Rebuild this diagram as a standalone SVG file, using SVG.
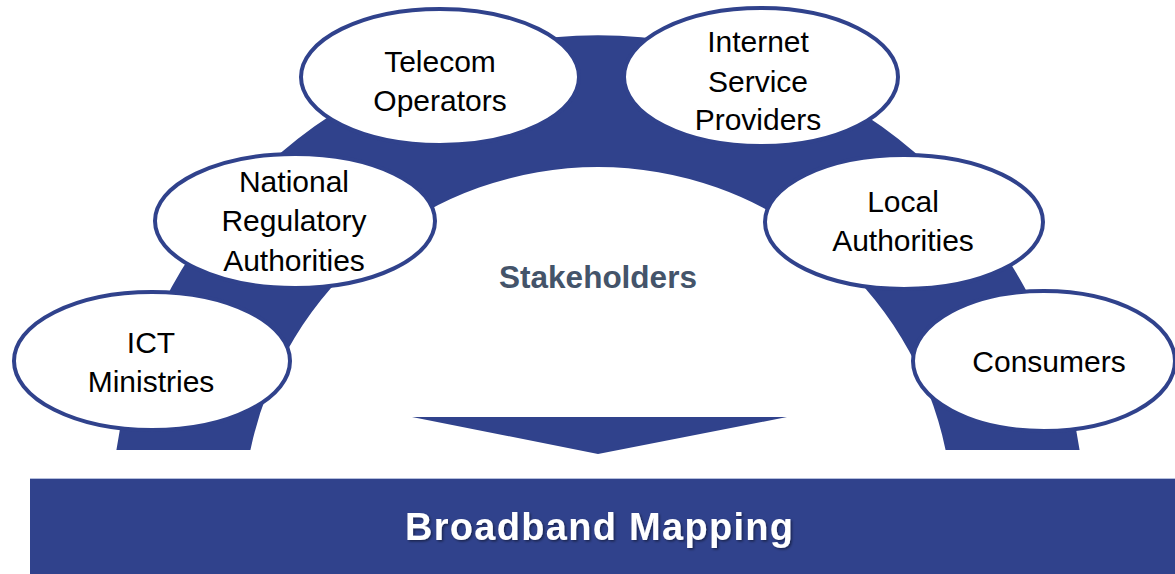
<svg xmlns="http://www.w3.org/2000/svg" width="1175" height="574" viewBox="0 0 1175 574">
<defs>
<filter id="shadow" x="-5%" y="-20%" width="110%" height="150%">
<feDropShadow dx="1.5" dy="1.5" stdDeviation="1" flood-color="#000" flood-opacity="0.45"/>
</filter>
</defs>
<style>
.band{fill:#30428C}
.node ellipse{fill:#fff;stroke:#30428C;stroke-width:4}
.node text{font-family:"Liberation Sans",Arial,sans-serif;font-size:30px;fill:#000;text-anchor:middle}
.title{font-family:"Liberation Sans",Arial,sans-serif;font-weight:bold;text-anchor:middle}
</style>
<rect width="1175" height="574" fill="#fff"/>
<g id="arch">
<path class="band" d="M116.4,450 A487,487 0 0 1 1079.6,450 L945.6,450 A355,355 0 0 0 250.4,450 Z"/>
</g>
<g id="connectors">
<polygon class="band" points="412,417 787,417 598,454"/>
</g>
<text class="title" x="598" y="288" font-size="31.5" fill="#44546A">Stakeholders</text>
<g id="ict" class="node">
<ellipse cx="152" cy="361" rx="138" ry="69"/>
<text x="151" y="353">ICT</text>
<text x="151" y="392">Ministries</text>
</g>
<g id="nra" class="node">
<ellipse cx="295" cy="221" rx="140" ry="67"/>
<text x="294" y="192">National</text>
<text x="294" y="231">Regulatory</text>
<text x="294" y="271">Authorities</text>
</g>
<g id="telecom" class="node">
<ellipse cx="440" cy="77" rx="139" ry="68"/>
<text x="440" y="72">Telecom</text>
<text x="440" y="111">Operators</text>
</g>
<g id="isp" class="node">
<ellipse cx="761" cy="77" rx="137" ry="69"/>
<text x="758" y="52">Internet</text>
<text x="758" y="92">Service</text>
<text x="758" y="130">Providers</text>
</g>
<g id="local" class="node">
<ellipse cx="904" cy="222" rx="139" ry="67"/>
<text x="903" y="212">Local</text>
<text x="903" y="251">Authorities</text>
</g>
<g id="consumers" class="node">
<ellipse cx="1044" cy="361" rx="131" ry="70"/>
<text x="1049" y="372">Consumers</text>
</g>
<g id="mapping">
<rect x="30" y="478" width="1145" height="96" class="band"/>
<line x1="30" y1="478.5" x2="1175" y2="478.5" stroke="#B4BEDC" stroke-width="1"/>
<text class="title" x="599" y="540" font-size="38" fill="#fff" textLength="388" lengthAdjust="spacing" filter="url(#shadow)">Broadband Mapping</text>
</g>
</svg>
